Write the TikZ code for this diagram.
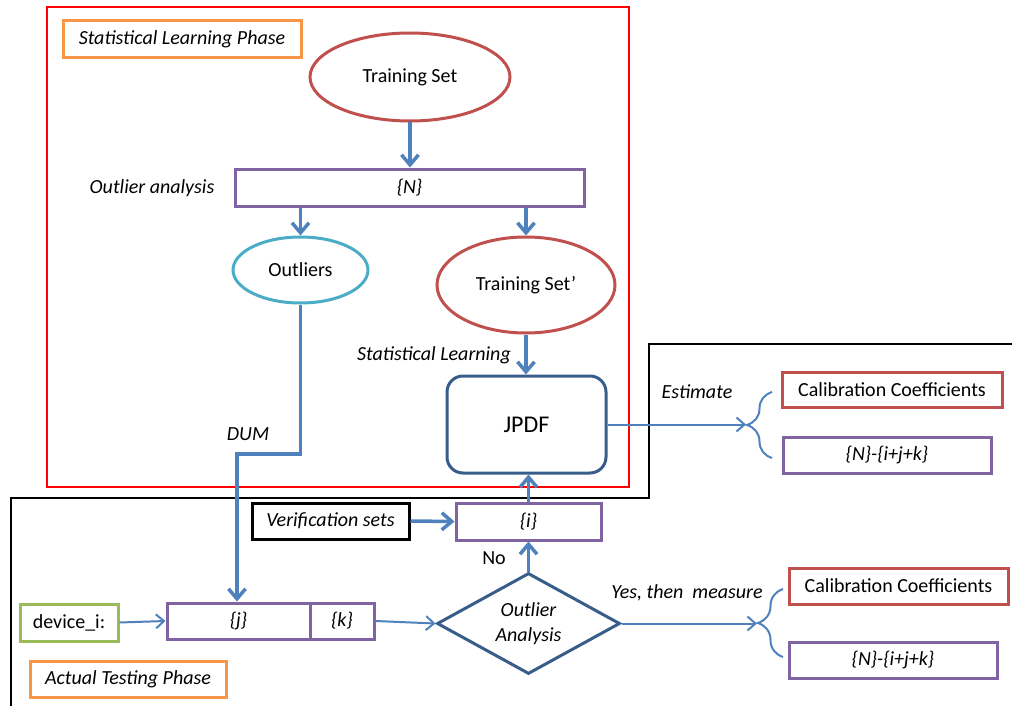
\documentclass[tikz,border=0pt]{standalone}
\usepackage{fontspec}
\setmainfont{Carlito}
\usetikzlibrary{shapes.geometric,arrows.meta,decorations.pathreplacing}
\definecolor{cred}{HTML}{C0504D}
\definecolor{cpurple}{HTML}{8064A2}
\definecolor{ccyan}{HTML}{4BACC6}
\definecolor{corange}{HTML}{F79646}
\definecolor{cgreen}{HTML}{9BBB59}
\definecolor{cblue}{HTML}{4F81BD}
\definecolor{cdark}{HTML}{385D8A}
\begin{document}
\begin{tikzpicture}[x=1pt,y=-1pt,
  every node/.style={font=\fontsize{20}{25}\selectfont},
  box/.style={draw,line width=3pt,inner sep=0pt},
  setbox/.style={box,draw=cpurple,font=\fontsize{20}{25}\selectfont\itshape},
  phasebox/.style={box,draw=corange,font=\fontsize{20}{25}\selectfont\itshape},
  ell/.style={ellipse,draw,line width=3pt,inner sep=0pt},
  lbl/.style={inner sep=0pt,font=\fontsize{20}{25}\selectfont\itshape},
  bigarr/.style={draw=cblue,line width=3.5pt,-{Straight Barb[length=10pt,width=17pt]}},
  smallarr/.style={draw=cblue,line width=2pt,-{Straight Barb[length=8pt,width=14pt]}},
  brc/.style={draw=cblue,line width=2pt,decorate,decoration={brace,amplitude=25pt}}
]
\useasboundingbox (0,0) rectangle (1012,706);
% phase frames
\draw[red,line width=1.5pt](47,7) rectangle (629,487);
\draw[line width=1.5pt](11,706)--(11,498)--(649,498)--(649,344)--(1012,344);

\node[phasebox,minimum width=238,minimum height=37] (slp) at (182,39.5) {Statistical Learning Phase};
\node[phasebox,minimum width=196,minimum height=36] (atp) at (128,679) {Actual Testing Phase};

% statistical learning
\node[ell,draw=cred,minimum width=200,minimum height=88] (ts) at (410,77) {Training Set};
\node[setbox,minimum width=349,minimum height=37] (nset) at (409.5,187.5) {\{N\}};
\node[lbl] (oa) at (152,188) {Outlier analysis};
\node[ell,draw=ccyan,minimum width=135,minimum height=66] (outl) at (300.5,270) {Outliers};
\node[ell,draw=cred,minimum width=178,minimum height=96] (ts2) at (526,285) {Training Set’};
\node[lbl] (sl) at (434,355) {Statistical Learning};
\node[box,draw=cdark,rounded corners=16pt,minimum width=159,minimum height=97,
  font=\fontsize{24}{29}\selectfont] (jpdf) at (526.5,424.5) {JPDF};

\draw[bigarr](ts.south)--(ts.south|-nset.north);
\draw[bigarr](outl.north|-nset.south)--(outl.north);
\draw[bigarr](ts2.north|-nset.south)--(ts2.north);
\draw[bigarr](ts2.south)--(ts2.south|-jpdf.north);

% estimate branch
\node[lbl] (est) at (697,392) {Estimate};
\node[box,draw=cred,minimum width=220,minimum height=35] (cal1) at (892,389.5) {Calibration Coefficients};
\node[setbox,minimum width=208,minimum height=36] (rest1) at (887,455) {\{N\}-\{i+j+k\}};
\coordinate (b1) at (746,424.5);
\draw[brc](772,458)--(772,392);
\draw[smallarr](jpdf.east)--(b1);

% testing
\node[lbl] (dum) at (248,434) {DUM};
\coordinate (bend) at (237,454);
\node[box,minimum width=157,minimum height=36,font=\fontsize{20}{25}\selectfont\itshape] (ver) at (330.5,521) {Verification sets};
\node[setbox,minimum width=145,minimum height=37] (iset) at (528.5,521.5) {\{i\}};
\node[box,draw=cgreen,minimum width=98,minimum height=37] (dev) at (69,622.5) {device\_i:};
\node[setbox,minimum width=143,minimum height=36] (jset) at (238.5,621) {\{j\}};
\node[setbox,minimum width=64,minimum height=36] (kset) at (342,621) {\{k\}};
\node[diamond,draw=cdark,line width=3pt,inner sep=0pt,aspect=1.8,minimum width=183,minimum height=101,
  align=center,font=\fontsize{20}{25}\selectfont\itshape] (dia) at (528.5,623.5) {Outlier\\Analysis};
\node (no) at (494,558) {No};
\node[lbl] (yes) at (687,593) {Yes, then\ \ measure};
\node[box,draw=cred,minimum width=219,minimum height=36] (cal2) at (898.5,586) {Calibration Coefficients};
\node[setbox,minimum width=208,minimum height=36] (rest2) at (893,660) {\{N\}-\{i+j+k\}};
\coordinate (b2) at (757,623.5);
\draw[brc](783,657)--(783,589);

\draw[bigarr](outl.south)|-(bend)--(bend|-jset.north);
\draw[bigarr](ver.east)--(iset.west);
\draw[bigarr](iset.north)--(iset.north|-jpdf.south);
\draw[bigarr](dia.north)--(iset.south);
\draw[smallarr](dev.east)--(jset.west);
\draw[smallarr](kset.east)--(dia.west);
\draw[smallarr](dia.east)--(b2);
\end{tikzpicture}
\end{document}
